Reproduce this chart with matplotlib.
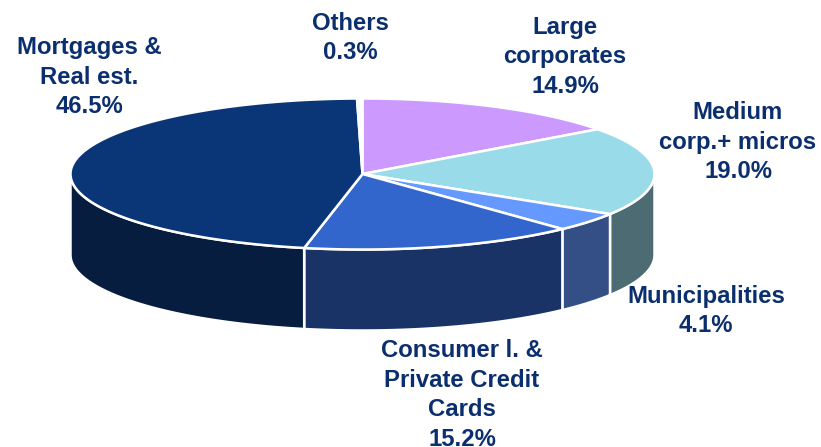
import numpy as np
import matplotlib
matplotlib.use("Agg")
import matplotlib.pyplot as plt

labels = ["Large\ncorporates\n14.9%", "Medium\ncorp.+ micros\n19.0%", "Municipalities\n4.1%",
          "Consumer l. &\nPrivate Credit\nCards\n15.2%", "Mortgages &\nReal est.\n46.5%", "Others\n0.3%"]
shares = [14.9, 19.0, 4.1, 15.2, 46.5, 0.3]
top_colors = ["#cc99ff", "#99dbe9", "#6699ff", "#3366cc", "#0a3678", "#ffffff"]
side_colors = ["#7a5c99", "#4d6b73", "#344f85", "#193366", "#061d3f", "#808080"]
label_pos = [(565, 57), (738, 142), (706, 311), (462, 395), (89, 77), (350, 38)]

cx, cy, rx, ry, depth = 362.5, 174, 292, 75.5, 81

def pt(a):
    return cx + rx * np.sin(a), cy - ry * np.cos(a)

fig = plt.figure(figsize=(8.21, 4.47), dpi=100)
ax = fig.add_axes([0, 0, 1, 1])
ax.set_xlim(0, 821)
ax.set_ylim(447, 0)
ax.axis("off")

edges = np.radians(np.concatenate([[0], np.cumsum(shares)]) * 3.6)

# side walls first, only the front half can be seen
for i in range(len(shares)):
    a0 = max(edges[i], np.pi / 2)
    a1 = min(edges[i + 1], 3 * np.pi / 2)
    if a1 <= a0:
        continue
    t = np.linspace(a0, a1, 100)
    x, y = pt(t)
    xs = np.concatenate([x, x[::-1]])
    ys = np.concatenate([y, y[::-1] + depth])
    ax.fill(xs, ys, fc=side_colors[i], ec="white", lw=1.8, joinstyle="round", zorder=1)

# top slices
for i in range(len(shares)):
    t = np.linspace(edges[i], edges[i + 1], 200)
    x, y = pt(t)
    xs = np.concatenate([[cx], x])
    ys = np.concatenate([[cy], y])
    ax.fill(xs, ys, fc=top_colors[i], ec="white", lw=1.8, joinstyle="round", zorder=2)

for lab, (lx, ly) in zip(labels, label_pos):
    ax.text(lx, ly, lab, ha="center", va="center", color="#0b2f6e", fontsize=17.2,
            fontweight="bold", family="Liberation Sans", linespacing=1.38, zorder=3)

fig.savefig("out.png", dpi=100)
